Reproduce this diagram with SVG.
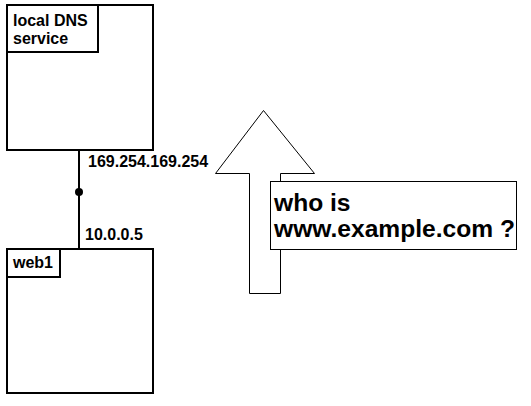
<svg xmlns="http://www.w3.org/2000/svg" width="531" height="406" viewBox="0 0 531 406">
<style>
.box{fill:#fff;stroke:#000;stroke-width:2}
.thin{fill:#fff;stroke:#000;stroke-width:1}
text{font-family:"Liberation Sans",Arial,sans-serif;font-weight:bold;fill:#000}
.s{font-size:16px}
.l{font-size:24.6px}
</style>
<rect width="531" height="406" fill="#fff"/>
<g id="connectors">
<line x1="79" y1="150" x2="79" y2="249" stroke="#000" stroke-width="2"/>
<circle cx="79" cy="192" r="4" fill="#000"/>
<text class="s" x="88" y="167">169.254.169.254</text>
<text class="s" x="85" y="240">10.0.0.5</text>
</g>
<g id="dns">
<rect class="box" x="7" y="5" width="146" height="145"/>
<rect class="box" x="7" y="5" width="91" height="47"/>
<text class="s" x="13" y="26">local DNS</text>
<text class="s" x="13" y="44">service</text>
</g>
<g id="web1">
<rect class="box" x="7" y="249" width="146" height="144"/>
<rect class="box" x="7" y="249" width="53" height="28"/>
<text class="s" x="13" y="268">web1</text>
</g>
<g id="arrow">
<polygon class="thin" points="263.5,110.5 314.5,173.5 280.5,173.5 280.5,293.5 249.5,293.5 249.5,173.5 215.5,173.5"/>
</g>
<g id="query">
<rect class="thin" x="270.5" y="181.5" width="246" height="68"/>
<text class="l" x="274" y="211">who is</text>
<text class="l" x="274" y="237">www.example.com ?</text>
</g>
</svg>
